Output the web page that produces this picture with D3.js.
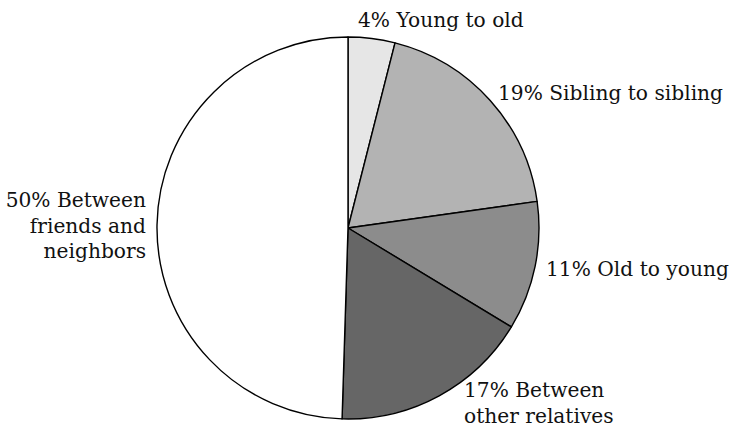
<!DOCTYPE html>
<html><head><meta charset="utf-8">
<script src="https://cdn.jsdelivr.net/npm/d3@7"></script>
<style>body{margin:0;background:#fff}svg{display:block}text{font-family:"DejaVu Serif",serif;font-size:20.2px;fill:#111}</style>
</head><body><svg id="c" width="738" height="438"></svg>
<script>
const categories = ["Young to old","Sibling to sibling","Old to young","Between other relatives","Between friends and neighbors"];
const values = [4,19,11,17,50];
const colors = ["#e6e6e6","#b3b3b3","#8c8c8c","#666666","#ffffff"];
const labelLines = [["4% Young to old"],["19% Sibling to sibling"],["11% Old to young"],["17% Between","other relatives"],["50% Between","friends and","neighbors"]];

const svg = d3.select("#c");
const cx = 348, cy = 228, R = 191;
const g = svg.append("g").attr("transform",`translate(${cx},${cy})`);
const pie = d3.pie().sort(null).value(d=>d);
const arcs = pie(values);
const arc = d3.arc().innerRadius(0).outerRadius(R);
g.selectAll("path").data(arcs).join("path")
  .attr("d",arc).attr("fill",(d,i)=>colors[i])
  .attr("stroke","#000").attr("stroke-width",1.4).attr("stroke-linejoin","round");

// label placement (layout offsets relative to pie center)
const labelPos = [
  {x:10, y:-201, anchor:"start"},
  {x:150, y:-128, anchor:"start"},
  {x:198, y:48, anchor:"start"},
  {x:116, y:169, anchor:"start"},
  {x:-202, y:-21, anchor:"end"}
];
const lh = 25.5;
labelLines.forEach((lines,i)=>{
  const p = labelPos[i];
  const t = g.append("text").attr("text-anchor",p.anchor);
  lines.forEach((l,j)=>t.append("tspan").attr("x",p.x).attr("y",p.y+j*lh).text(l));
});
</script></body></html>
